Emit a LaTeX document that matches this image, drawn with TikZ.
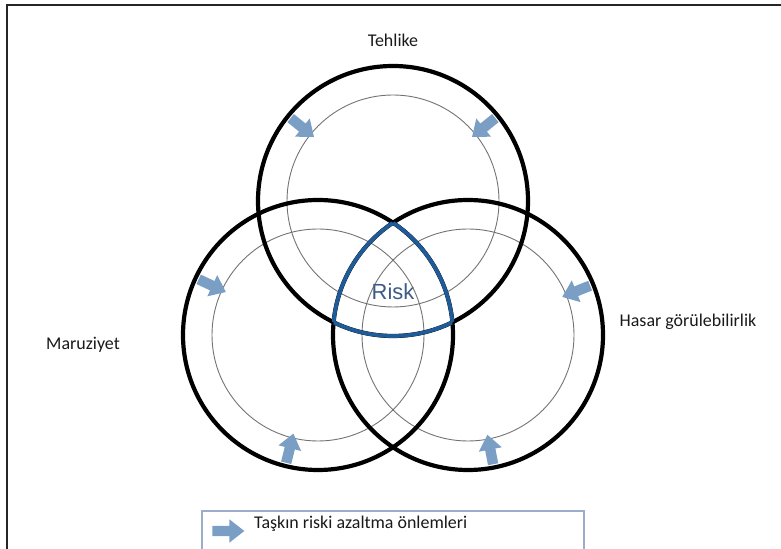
\documentclass[tikz,border=0pt]{standalone}
\usepackage{fontspec}
\setmainfont{Carlito}
\newfontfamily\riskfont{Liberation Sans}
\usetikzlibrary{shapes.arrows}
\definecolor{arrowblue}{HTML}{7A9EC4}
\definecolor{riskblue}{HTML}{1F5B98}
\definecolor{risktext}{HTML}{3D5B86}
\definecolor{legendframe}{HTML}{9AAECB}
\begin{document}
\begin{tikzpicture}[x=1bp,y=1bp,
  outerring/.style={line width=4.2bp, draw=black},
  innerring/.style={line width=0.9bp, draw=black!55},
  riskline/.style={line width=3.8bp, draw=riskblue},
  inarrow/.style={single arrow, fill=arrowblue, draw=none, inner xsep=0pt, inner ysep=5bp,
    minimum width=23bp, minimum height=30bp, single arrow head extend=6.5bp,
    single arrow tip angle=76},
  lbl/.style={font=\fontsize{18}{20}\selectfont, text=black!90, inner sep=0pt}
]
\useasboundingbox (0,0) rectangle (781,549);
\clip (0,0) rectangle (781,549);

% outer frame
\draw[line width=2bp, black!85] (7,-10) -- (7,544) -- (790,544);

% circle centres
\coordinate (T) at (393,348);
\coordinate (L) at (318,214);
\coordinate (R) at (468,214);

% thin inner rings
\foreach \c in {T,L,R}
  \draw[innerring] (\c) circle[radius=106];

% inward-pointing measure arrows
\node[inarrow, rotate=321] (aT1) at ([shift={(141:120)}]T) {};
\node[inarrow, rotate=219] (aT2) at ([shift={(39:120)}]T) {};
\node[inarrow, rotate=335] (aL1) at ([shift={(155:120)}]L) {};
\node[inarrow, rotate=76]  (aL2) at ([shift={(256:120)}]L) {};
\node[inarrow, rotate=202] (aR1) at ([shift={(22:120)}]R) {};
\node[inarrow, rotate=101] (aR2) at ([shift={(281:120)}]R) {};

% thick outer rings
\foreach \c in {T,L,R}
  \draw[outerring] (\c) circle[radius=135];

% outline of the common region
\begin{scope}
  \clip (L) circle[radius=135];
  \clip (R) circle[radius=135];
  \draw[riskline] (T) circle[radius=135];
\end{scope}
\begin{scope}
  \clip (T) circle[radius=135];
  \clip (R) circle[radius=135];
  \draw[riskline] (L) circle[radius=135];
\end{scope}
\begin{scope}
  \clip (T) circle[radius=135];
  \clip (L) circle[radius=135];
  \draw[riskline] (R) circle[radius=135];
\end{scope}
\node[text=risktext, font=\riskfont\fontsize{22}{24}\selectfont, inner sep=0pt] (risk) at (393,257) {Risk};

% circle labels
\node[lbl] (hazard) at (393,509) {Tehlike};
\node[lbl] (exposure) at (83,204) {Maruziyet};
\node[lbl] (vuln) at (688,227) {Hasar görülebilirlik};

% legend
\node[draw=legendframe, line width=2bp, minimum width=382bp, minimum height=70bp,
  anchor=north west, inner sep=0pt] (legend) at (201,39) {};
\node[inarrow, minimum height=32bp] (legarrow) at (225,18) {};
\node[lbl, anchor=base west] (legtext) at (254,20) {Taşkın riski azaltma önlemleri};
\end{tikzpicture}
\end{document}
